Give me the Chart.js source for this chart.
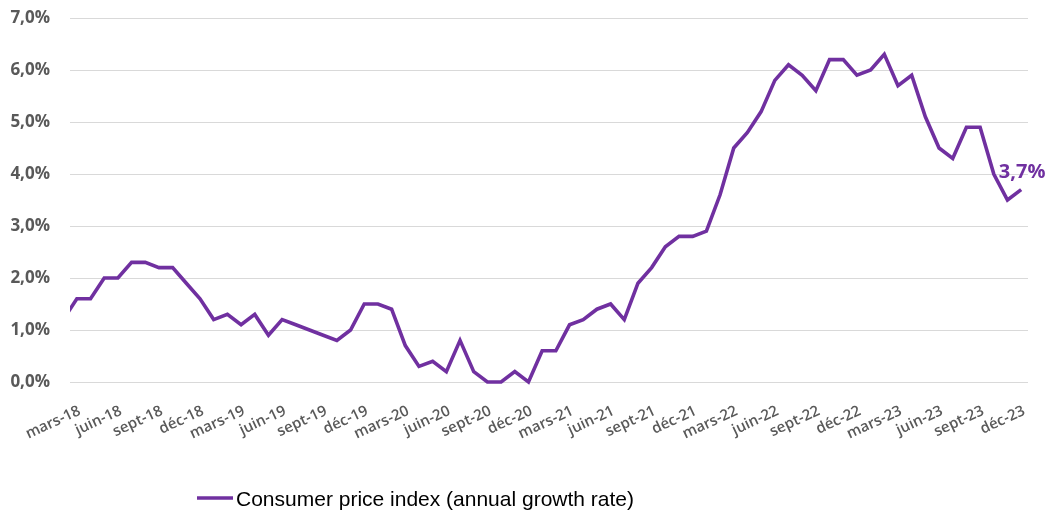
<!DOCTYPE html>
<html>
<head>
<meta charset="utf-8">
<script src="https://cdn.jsdelivr.net/npm/chart.js@4"></script>
<style>
  html, body { margin: 0; padding: 0; background: #fff; }
  #cpiChart { display: block; }
</style>
</head>
<body>
<canvas id="cpiChart" width="1051" height="513"></canvas>
<script>
// Monthly labels, starting one month before the first tick (febr-18 is drawn but clipped)
const months = [
  'févr-18', 'mars-18', 'avr-18', 'mai-18', 'juin-18', 'juil-18', 'août-18', 'sept-18', 'oct-18', 'nov-18', 'déc-18',
  'janv-19', 'févr-19', 'mars-19', 'avr-19', 'mai-19', 'juin-19', 'juil-19', 'août-19', 'sept-19', 'oct-19', 'nov-19', 'déc-19',
  'janv-20', 'févr-20', 'mars-20', 'avr-20', 'mai-20', 'juin-20', 'juil-20', 'août-20', 'sept-20', 'oct-20', 'nov-20', 'déc-20',
  'janv-21', 'févr-21', 'mars-21', 'avr-21', 'mai-21', 'juin-21', 'juil-21', 'août-21', 'sept-21', 'oct-21', 'nov-21', 'déc-21',
  'janv-22', 'févr-22', 'mars-22', 'avr-22', 'mai-22', 'juin-22', 'juil-22', 'août-22', 'sept-22', 'oct-22', 'nov-22', 'déc-22',
  'janv-23', 'févr-23', 'mars-23', 'avr-23', 'mai-23', 'juin-23', 'juil-23', 'août-23', 'sept-23', 'oct-23', 'nov-23', 'déc-23'
];

// Consumer price index, annual growth rate (%)
const cpiValues = [
  1.2, 1.6, 1.6, 2.0, 2.0, 2.3, 2.3, 2.2, 2.2, 1.9, 1.6,
  1.2, 1.3, 1.1, 1.3, 0.9, 1.2, 1.1, 1.0, 0.9, 0.8, 1.0, 1.5,
  1.5, 1.4, 0.7, 0.3, 0.4, 0.2, 0.8, 0.2, 0.0, 0.0, 0.2, 0.0,
  0.6, 0.6, 1.1, 1.2, 1.4, 1.5, 1.2, 1.9, 2.2, 2.6, 2.8, 2.8,
  2.9, 3.6, 4.5, 4.8, 5.2, 5.8, 6.1, 5.9, 5.6, 6.2, 6.2, 5.9,
  6.0, 6.3, 5.7, 5.9, 5.1, 4.5, 4.3, 4.9, 4.9, 4.0, 3.5, 3.7
];

// x-axis ticks every quarter, from mars-18 to déc-23 (index into months)
const tickMonths = [1, 4, 7, 10, 13, 16, 19, 22, 25, 28, 31, 34, 37, 40, 43, 46, 49, 52, 55, 58, 61, 64, 67, 70];
const yTicks = [0, 1, 2, 3, 4, 5, 6, 7];

const seriesLabel = 'Consumer price index (annual growth rate)';
const purple = '#7030A0';

const pct = v => v.toFixed(1).replace('.', ',') + '%';

// points are placed on month position (mars-18 = 0)
const points = cpiValues.map((v, i) => ({ x: i - 1, y: v }));

// value label on the last point + legend drawn by hand
const extrasPlugin = {
  id: 'extras',
  afterDatasetsDraw(chart) {
    const ctx = chart.ctx;
    const xs = chart.scales.x, ys = chart.scales.y;
    const last = points[points.length - 1];
    const px = xs.getPixelForValue(last.x);
    const py = ys.getPixelForValue(last.y);

    ctx.save();
    ctx.fillStyle = purple;
    ctx.font = 'bold 20px "Open Sans"';
    ctx.textAlign = 'center';
    ctx.textBaseline = 'alphabetic';
    ctx.fillText(pct(last.y), px + 1, py - 12);

    // legend
    ctx.strokeStyle = purple;
    ctx.lineWidth = 3.5;
    ctx.beginPath();
    ctx.moveTo(197, 498);
    ctx.lineTo(233, 498);
    ctx.stroke();
    ctx.fillStyle = '#000';
    ctx.font = '21px "Liberation Sans"';
    ctx.textAlign = 'left';
    ctx.fillText(seriesLabel, 236, 506);
    ctx.restore();
  }
};

const ctx = document.getElementById('cpiChart').getContext('2d');
new Chart(ctx, {
  type: 'line',
  data: {
    datasets: [{
      label: seriesLabel,
      data: points,
      borderColor: purple,
      borderWidth: 3.6,
      pointRadius: 0,
      tension: 0,
      fill: false,
      clip: { left: 0, right: 10, top: 10, bottom: 10 }
    }]
  },
  options: {
    responsive: false,
    animation: false,
    events: [],
    layout: {
      padding: { top: 18, right: 23, left: 0, bottom: 0 }
    },
    plugins: {
      legend: { display: false },
      tooltip: { enabled: false }
    },
    scales: {
      x: {
        type: 'linear',
        min: -0.5,
        max: 69.5,
        afterBuildTicks: scale => {
          scale.ticks = tickMonths.map(m => ({ value: m - 1 }));
        },
        afterFit: scale => { scale.height = 131; },
        grid: { display: false, drawTicks: false },
        border: { display: false },
        ticks: {
          color: '#595959',
          font: { family: 'Open Sans', size: 15, weight: '600' },
          minRotation: 25,
          maxRotation: 25,
          padding: 20,
          labelOffset: 3,
          autoSkip: false,
          callback: v => months[v + 1]
        }
      },
      y: {
        min: 0,
        max: 7,
        afterBuildTicks: scale => {
          scale.ticks = yTicks.map(v => ({ value: v }));
        },
        afterFit: scale => { scale.width = 70; },
        // invisible tick marks keep the labels away from the plot without padding the top
        grid: { color: '#d9d9d9', lineWidth: 1, drawTicks: true, tickLength: 18, tickColor: 'rgba(0,0,0,0)' },
        border: { display: false },
        ticks: {
          color: '#595959',
          font: { family: 'Open Sans', size: 17, weight: 'bold' },
          padding: 2,
          callback: v => pct(v)
        }
      }
    }
  },
  plugins: [extrasPlugin]
});
</script>
</body>
</html>
